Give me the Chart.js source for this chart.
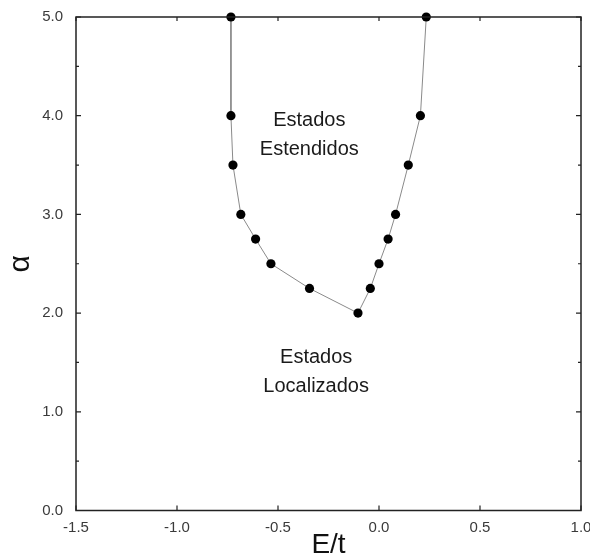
<!DOCTYPE html>
<html>
<head>
<meta charset="utf-8">
<script src="https://cdn.jsdelivr.net/npm/chart.js@4/dist/chart.umd.min.js"></script>
<style>
  html, body { margin: 0; padding: 0; background: #fff; }
  #wrap { width: 590px; height: 557px; }
</style>
</head>
<body>
<div id="wrap"><canvas id="c" width="590" height="557"></canvas></div>
<script>
// Mobility edge: energy E/t versus disorder exponent alpha
const energy = [-0.733, -0.733, -0.723, -0.684, -0.611, -0.535, -0.344, -0.104,
                -0.043, 0.0, 0.045, 0.082, 0.145, 0.205, 0.234];
const alpha  = [5.0, 4.0, 3.5, 3.0, 2.75, 2.5, 2.25, 2.0,
                2.25, 2.5, 2.75, 3.0, 3.5, 4.0, 5.0];

const xTicks = [-1.5, -1.0, -0.5, 0.0, 0.5, 1.0];
const yTicks = [0.0, 1.0, 2.0, 3.0, 4.0, 5.0];

// Region labels: [E, alpha, lines]
const regionLabels = [
  [-0.345, 3.80, ['Estados', 'Estendidos']],
  [-0.311, 1.40, ['Estados', 'Localizados']]
];

const FONT = '"Liberation Sans", Arial, Helvetica, sans-serif';

const points = energy.map((e, i) => ({ x: e, y: alpha[i] }));

// Frame around the plot plus inward tick marks on all four sides
const framePlugin = {
  id: 'frame',
  afterDraw(chart) {
    const { ctx, chartArea: a, scales } = chart;
    ctx.save();
    ctx.strokeStyle = '#222';
    ctx.lineWidth = 1.5;
    ctx.strokeRect(a.left, a.top, a.right - a.left, a.bottom - a.top);
    ctx.lineWidth = 1.2;
    ctx.beginPath();
    scales.x.ticks.forEach(t => {
      const px = scales.x.getPixelForValue(t.value);
      ctx.moveTo(px, a.bottom); ctx.lineTo(px, a.bottom - 5);
      ctx.moveTo(px, a.top);    ctx.lineTo(px, a.top + 4);
    });
    scales.y.ticks.forEach(t => {
      const py = scales.y.getPixelForValue(t.value);
      const len = Number.isInteger(Math.round(t.value * 1000) / 1000) ? 5 : 3;
      ctx.moveTo(a.left, py);  ctx.lineTo(a.left + len, py);
      ctx.moveTo(a.right, py); ctx.lineTo(a.right - len, py);
    });
    ctx.stroke();

    // region annotations
    ctx.fillStyle = '#1a1a1a';
    ctx.font = '20px ' + FONT;
    ctx.textAlign = 'center';
    ctx.textBaseline = 'middle';
    regionLabels.forEach(([e, al, lines]) => {
      const cx = scales.x.getPixelForValue(e);
      const cy = scales.y.getPixelForValue(al);
      const lh = 29;
      lines.forEach((s, i) => {
        ctx.fillText(s, cx, cy + (i - (lines.length - 1) / 2) * lh);
      });
    });
    ctx.restore();
  }
};

new Chart(document.getElementById('c'), {
  type: 'scatter',
  data: {
    datasets: [{
      data: points,
      showLine: true,
      borderColor: '#8a8a8a',
      borderWidth: 1,
      pointRadius: 4.6,
      pointBackgroundColor: '#000',
      pointBorderColor: '#000',
      pointBorderWidth: 0,
      clip: false
    }]
  },
  options: {
    responsive: false,
    animation: false,
    layout: { padding: { top: 17, right: 9, left: 0, bottom: 0 } },
    plugins: { legend: { display: false }, tooltip: { enabled: false } },
    scales: {
      x: {
        type: 'linear',
        min: -1.5, max: 1.0,
        afterBuildTicks(scale) { scale.ticks = xTicks.map(v => ({ value: v })); },
        afterFit(scale) {
          scale.height = 46.5;
          scale.paddingLeft = 0;
          scale.paddingRight = 0;
        },
        grid: { display: false, drawTicks: false },
        border: { display: false },
        ticks: {
          padding: 8,
          color: '#3a3a3a',
          font: { family: FONT, size: 15 },
          callback: v => v.toFixed(1)
        },
        title: {
          display: true,
          text: 'E/t',
          color: '#111',
          font: { family: FONT, size: 28, lineHeight: 0.85 },
          padding: { top: 0, bottom: 0 }
        }
      },
      y: {
        type: 'linear',
        min: 0, max: 5,
        afterBuildTicks(scale) {
          const t = [];
          for (let i = 0; i <= 10; i++) t.push({ value: i * 0.5 });
          scale.ticks = t;
        },
        afterFit(scale) {
          scale.width = 76;
          scale.paddingTop = 0;
          scale.paddingBottom = 0;
        },
        grid: { display: false, drawTicks: false },
        border: { display: false },
        ticks: {
          padding: 13,
          color: '#3a3a3a',
          font: { family: FONT, size: 15 },
          callback: v => (yTicks.includes(v) ? v.toFixed(1) : '')
        },
        title: {
          display: true,
          text: 'α',
          color: '#111',
          font: { family: FONT, size: 30, lineHeight: 1.35 },
          padding: { top: 0, bottom: 0 }
        }
      }
    }
  },
  plugins: [framePlugin]
});
</script>
</body>
</html>
